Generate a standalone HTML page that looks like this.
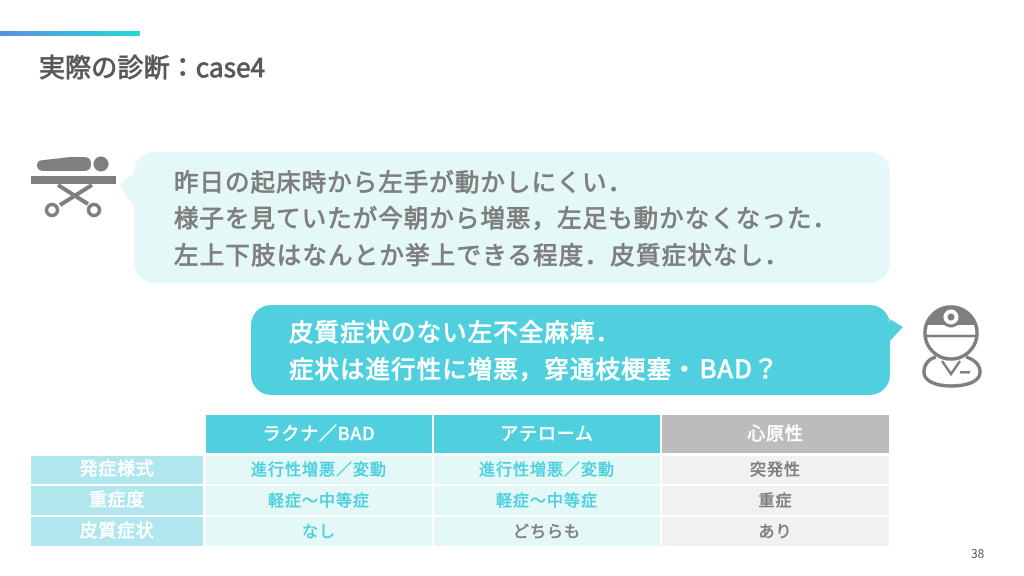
<!DOCTYPE html>
<html lang="ja"><head><meta charset="utf-8">
<style>
html,body{margin:0;padding:0;background:#fff}
#p{position:relative;width:1024px;height:576px;overflow:hidden;background:#fff;font-family:"Noto Sans CJK JP","Liberation Sans",sans-serif}
.t{position:absolute;white-space:nowrap;font-weight:400;line-height:1;font-size:24.4px;letter-spacing:1.15px;-webkit-text-stroke:.85px currentColor}
.c{position:absolute;display:flex;align-items:center;justify-content:center;font-weight:400;font-size:16px;letter-spacing:1px;white-space:nowrap;box-sizing:border-box;padding-bottom:4px;-webkit-text-stroke:.6px currentColor}
.h{color:#fff;font-size:18px;letter-spacing:.8px;background:#50d0de;padding-bottom:2px}
.l{color:#fff;font-size:18px;letter-spacing:.7px;background:#b0e7ef}
.a{background:#e5f8f8;color:#50d0de}
.g{background:#f1f1f1;color:#7f7f7f}
.b{background:#e5f8f8;color:#7f7f7f}
</style></head><body><div id="p">
<div style="position:absolute;left:0;top:31px;width:140px;height:5px;background:linear-gradient(90deg,#5b8fe0,#20dcd8)"></div>
<div class="t" style="left:39px;top:54px;font-size:26px;letter-spacing:.15px;color:#595959">実際の診断：case4</div>

<svg style="position:absolute;left:0;top:0" width="1024" height="576">
<path d="M134 172a20 20 0 0 1 20-20H870a20 20 0 0 1 20 20V263a20 20 0 0 1-20 20H154a20 20 0 0 1-20-20V206L119 185L134 173Z" fill="#e5f8f8"/>
<path d="M251 325a20 20 0 0 1 20-20H870a20 20 0 0 1 20 20V319L903 327L890 341V375a20 20 0 0 1-20 20H271a20 20 0 0 1-20-20Z" fill="#50d0de"/>
<g fill="#7f7f7f">
<path d="M44 171Q37 171 37 165Q37 160 44 160L70 157H84Q91 157 91 164Q91 171 84 171Z"/>
<circle cx="101" cy="164" r="7.5"/>
<rect x="31" y="176" width="85" height="8"/>
</g>
<g stroke="#7f7f7f" fill="none">
<path d="M58 185L88 204M92 185L60 205" stroke-width="4"/>
<circle cx="52" cy="210" r="5.5" stroke-width="3.5"/>
<circle cx="94" cy="210" r="5.5" stroke-width="3.5"/>
</g>
<path d="M927 325Q933 310 951 306Q969 310 975 325Z" fill="#7f7f7f"/>
<g stroke="#7f7f7f" fill="none" stroke-width="3.5">
<circle cx="951" cy="333" r="26"/>
<path d="M925 336H977" stroke-width="2.5"/>
<path d="M936 357C925 360 924 369 924 372C924 382 938 386 951 386C966 386 980 382 980 372C980 366 976 360 966 357"/>
<path d="M942 361L951 374L960 361" stroke-width="2.5"/>
</g>
<circle cx="951" cy="317" r="9" fill="#fff" stroke="#7f7f7f" stroke-width="3"/>
<circle cx="951" cy="317" r="3.5" fill="#7f7f7f"/>
<rect x="960" y="371" width="10" height="2.5" fill="#7f7f7f"/>
</svg>

<div class="t" style="left:174px;top:170px;color:#7f7f7f">昨日の起床時から左手が動かしにくい．</div>
<div class="t" style="left:174px;top:206px;color:#7f7f7f">様子を見ていたが今朝から増悪，左足も動かなくなった．</div>
<div class="t" style="left:174px;top:243px;letter-spacing:1.3px;color:#7f7f7f">左上下肢はなんとか挙上できる程度．皮質症状なし．</div>
<div class="t" style="left:289px;top:320px;color:#fff">皮質症状のない左不全麻痺．</div>
<div class="t" style="left:289px;top:355px;color:#fff">症状は進行性に増悪，穿通枝梗塞・<span style="margin-left:2px;font-size:25.5px">BAD？</span></div>

<div class="c h" style="left:206px;top:415px;width:226px;height:38px">ラクナ／BAD</div>
<div class="c h" style="left:434px;top:415px;width:226px;height:38px">アテローム</div>
<div class="c h" style="left:662px;top:415px;width:227px;height:38px;background:#bcbcbc">心原性</div>

<div class="c l" style="left:31px;top:456px;width:172px;height:28px">発症様式</div>
<div class="c a" style="left:206px;top:456px;width:226px;height:28px">進行性増悪／変動</div>
<div class="c a" style="left:434px;top:456px;width:226px;height:28px">進行性増悪／変動</div>
<div class="c g" style="left:662px;top:456px;width:227px;height:28px">突発性</div>

<div class="c l" style="left:31px;top:486px;width:172px;height:29px">重症度</div>
<div class="c a" style="left:206px;top:486px;width:226px;height:29px">軽症～中等症</div>
<div class="c a" style="left:434px;top:486px;width:226px;height:29px">軽症～中等症</div>
<div class="c g" style="left:662px;top:486px;width:227px;height:29px">重症</div>

<div class="c l" style="left:31px;top:517px;width:172px;height:29px">皮質症状</div>
<div class="c a" style="left:206px;top:517px;width:226px;height:29px">なし</div>
<div class="c b" style="left:434px;top:517px;width:226px;height:29px">どちらも</div>
<div class="c g" style="left:662px;top:517px;width:227px;height:29px">あり</div>

<div style="position:absolute;left:971px;top:547px;font-size:12px;line-height:14px;color:#595959">38</div>
</div></body></html>
